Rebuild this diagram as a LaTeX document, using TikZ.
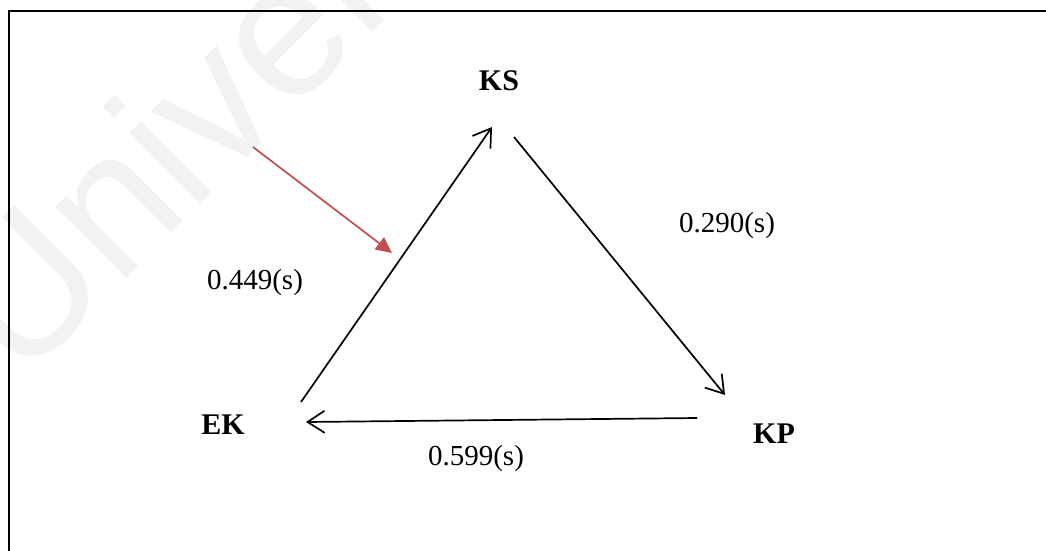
\documentclass[tikz,border=0pt]{standalone}
\usepackage{fontspec}
\setmainfont{Liberation Serif}
\newfontfamily\wmfont{Liberation Sans}
\usetikzlibrary{arrows.meta}
\definecolor{redarrow}{HTML}{C0504D}
\tikzset{
  lbl/.style={font=\fontsize{29}{34}\selectfont, inner sep=0pt},
  vtx/.style={font=\fontsize{30}{34}\selectfont\bfseries, inner sep=0pt},
  link/.style={line width=1.7pt, -{Straight Barb[length=17pt,width=22pt,line width=1.7pt]}},
  hint/.style={line width=1.7pt, draw=redarrow, -{Triangle[length=16pt,width=15pt,fill=redarrow]}},
}
\begin{document}
\begin{tikzpicture}[x=1pt,y=-1pt]
\useasboundingbox (0,0) rectangle (1046,550);
\begin{scope}
\clip (0,0) rectangle (1046,550);
\node[font=\wmfont\fontsize{190}{195}\selectfont, text=black!5, anchor=base west, rotate=45, inner sep=0pt] (wm) at (20,385) {University};
\draw[line width=2.4pt] (9,560) -- (9,11) -- (1060,11);
\end{scope}
% labels
\node[vtx] (ks) at (499,81) {KS};
\node[vtx] (ek) at (223,425) {EK};
\node[vtx] (kp) at (774,434) {KP};
\node[lbl] (w1) at (255,283) {0.449(s)};
\node[lbl] (w2) at (727,226) {0.290(s)};
\node[lbl] (w3) at (476,459) {0.599(s)};
% connector ends
\coordinate (ekout) at (301,402);
\coordinate (ksin) at (492,127);
\coordinate (ksout) at (514,137);
\coordinate (kpin) at (725,395);
\coordinate (kpout) at (697,418);
\coordinate (ekin) at (306,422);
\coordinate (hs) at (253,147);
\coordinate (he) at (392,253);
\draw[link] (ekout) -- (ksin);
\draw[link] (ksout) -- (kpin);
\draw[link] (kpout) -- (ekin);
\draw[hint] (hs) -- (he);
\end{tikzpicture}
\end{document}
